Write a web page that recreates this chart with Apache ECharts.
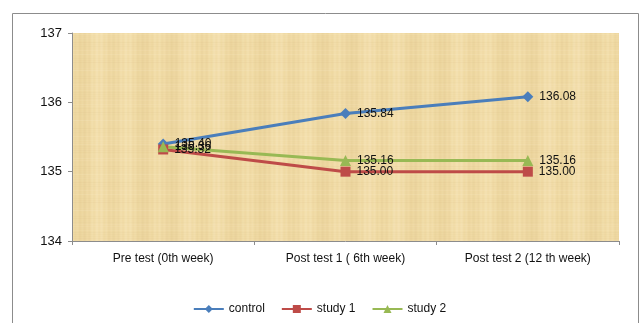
<!DOCTYPE html>
<html>
<head>
<meta charset="utf-8">
<script src="https://cdn.jsdelivr.net/npm/echarts@6/dist/echarts.min.js"></script>
<style>
  html, body { margin: 0; padding: 0; background: #fff; }
  #chart { width: 639px; height: 323px; }
</style>
</head>
<body>
<div id="chart"></div>
<script>
const categories = ["Pre test (0th week)", "Post test 1 ( 6th week)", "Post test 2 (12 th week)"];
const control = [135.40, 135.84, 136.08];
const study1 = [135.32, 135.00, 135.00];
const study2 = [135.36, 135.16, 135.16];

// papyrus-ish background texture (deterministic streaks)
function makeTexture() {
  const w = 180, h = 140;
  const c = document.createElement("canvas");
  c.width = w;
  c.height = h;
  const ctx = c.getContext("2d");
  ctx.fillStyle = "#f0daa4";
  ctx.fillRect(0, 0, w, h);
  for (let x = 0; x < w; x++) {
    const v = Math.sin(x * 0.21) * 0.5 + Math.sin(x * 1.3 + 2) * 0.3 + Math.sin(x * 0.07) * 0.2;
    ctx.fillStyle = v > 0 ? "rgba(250,235,195," + (v * 0.45) + ")" : "rgba(205,175,115," + (-v * 0.18) + ")";
    ctx.fillRect(x, 0, 1, h);
  }
  for (let y = 0; y < h; y += 2) {
    const v = Math.sin(y * 0.37 + 1) * 0.6 + Math.sin(y * 1.9) * 0.4;
    ctx.fillStyle = v > 0 ? "rgba(252,240,208," + (v * 0.18) + ")" : "rgba(200,170,110," + (-v * 0.08) + ")";
    ctx.fillRect(0, y, w, 1);
  }
  return c;
}

const chart = echarts.init(document.getElementById("chart"));

function lineSeries(name, data, color, symbol, size) {
  return {
    name: name,
    type: "line",
    data: data,
    symbol: symbol,
    symbolSize: size,
    lineStyle: { color: color, width: 3 },
    itemStyle: { color: color },
    label: {
      show: true,
      position: "right",
      distance: 6,
      color: "#111",
      fontSize: 12,
      fontFamily: "Liberation Sans",
      formatter: (p) => p.value.toFixed(2),
    },
  };
}

chart.setOption({
  animation: false,
  textStyle: { fontFamily: "Liberation Sans" },
  graphic: [
    {
      type: "rect",
      shape: { x: 12.5, y: 13.5, width: 626, height: 320 },
      style: { fill: null, stroke: "#8c8c8c", lineWidth: 1 },
      silent: true,
    },
  ],
  grid: {
    left: 72,
    right: 20,
    top: 33,
    bottom: 82,
    show: true,
    borderWidth: 0,
    backgroundColor: { image: makeTexture(), repeat: "repeat" },
  },
  legend: {
    bottom: 3,
    left: "center",
    itemWidth: 30,
    itemHeight: 10,
    itemGap: 16,
    textStyle: { color: "#111", fontSize: 12 },
    data: ["control", "study 1", "study 2"],
  },
  xAxis: {
    type: "category",
    data: categories,
    boundaryGap: true,
    axisLine: { lineStyle: { color: "#8c8c8c" } },
    axisTick: { show: true, length: 4, lineStyle: { color: "#8c8c8c" } },
    axisLabel: { color: "#111", fontSize: 12, margin: 12 },
  },
  yAxis: {
    type: "value",
    min: 134,
    max: 137,
    interval: 1,
    axisLine: { show: true, lineStyle: { color: "#8c8c8c" } },
    axisTick: { show: true, length: 4, lineStyle: { color: "#8c8c8c" } },
    axisLabel: { color: "#111", fontSize: 13, margin: 10 },
    splitLine: { show: false },
  },
  series: [
    lineSeries("control", control, "#4a7ebb", "diamond", 11),
    lineSeries("study 1", study1, "#be4b48", "rect", 10),
    lineSeries("study 2", study2, "#98b954", "triangle", 11),
  ],
});
</script>
</body>
</html>
